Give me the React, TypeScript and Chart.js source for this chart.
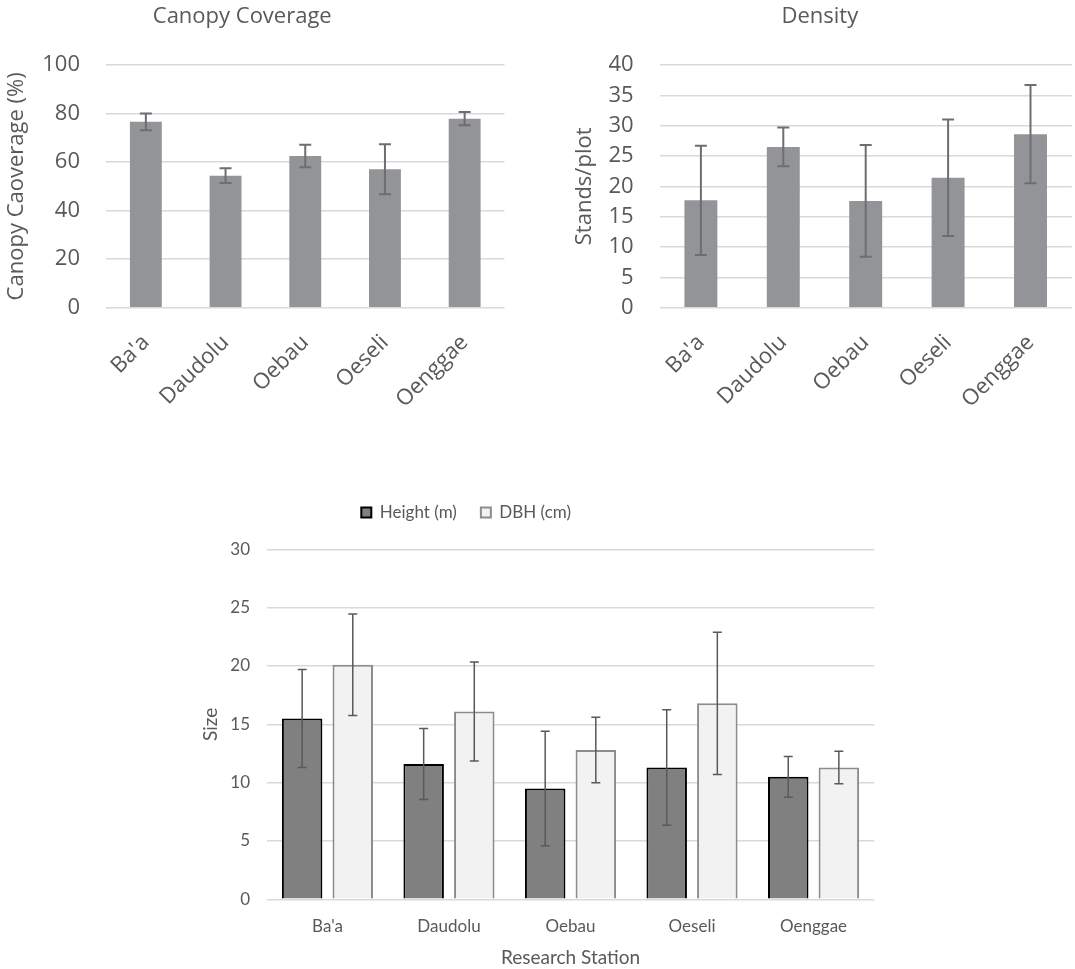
import React, { useEffect, useRef } from 'react';
import { Chart, registerables } from 'chart.js';

Chart.register(...registerables);

// ---------- data ----------
const stations = ["Ba'a", 'Daudolu', 'Oebau', 'Oeseli', 'Oenggae'];

const canopyMean = [76.6, 54.4, 62.5, 57.0, 77.9];
const canopyErr = [3.45, 3.05, 4.6, 10.3, 2.75];

const densityMean = [17.7, 26.5, 17.6, 21.4, 28.6];
const densityErr = [9.0, 3.2, 9.2, 9.6, 8.1];

const heightMean = [15.5, 11.6, 9.5, 11.3, 10.5];
const heightErr = [4.2, 3.05, 4.9, 4.95, 1.75];

const dbhMean = [20.1, 16.1, 12.8, 16.8, 11.3];
const dbhErr = [4.35, 4.25, 2.8, 6.1, 1.4];

// ---------- styles ----------
const TEXT = '#595959';
const TOP_FONT = "'Open Sans', 'Noto Sans', sans-serif";
const BOT_FONT = "Lato, 'Open Sans', sans-serif";
const GRID = '#d9d9d9';

const errorBarPlugin: any = {
  id: 'errorBars',
  afterDatasetsDraw(chart: any, _args: any, opts: any) {
    const { ctx } = chart;
    const yScale = chart.scales.y;
    chart.data.datasets.forEach((ds: any, di: number) => {
      const errs = ds.errors;
      if (!errs) return;
      const meta = chart.getDatasetMeta(di);
      meta.data.forEach((bar: any, i: number) => {
        const v = ds.data[i];
        const e = errs[i];
        const x = bar.x;
        const yT = yScale.getPixelForValue(v + e);
        const yB = yScale.getPixelForValue(v - e);
        ctx.save();
        ctx.strokeStyle = opts.color;
        ctx.lineWidth = opts.width;
        ctx.beginPath();
        ctx.moveTo(x, yT);
        ctx.lineTo(x, yB);
        ctx.moveTo(x - opts.cap, yT);
        ctx.lineTo(x + opts.cap, yT);
        ctx.moveTo(x - opts.cap, yB);
        ctx.lineTo(x + opts.cap, yB);
        ctx.stroke();
        ctx.restore();
      });
    });
  },
};

const legendGapPlugin: any = {
  id: 'legendGap',
  beforeLayout(chart: any, _args: any, opts: any) {
    const lg = chart.legend;
    if (lg && !lg._gapPatched) {
      const orig = lg.fit.bind(lg);
      lg.fit = function () {
        orig();
        this.height += (opts && opts.extra) || 0;
      };
      lg._gapPatched = true;
    }
  },
};

function topConfig(
  title: string,
  yTitle: string,
  data: number[],
  errs: number[],
  max: number,
  step: number,
  padRight: number,
  yWidth: number,
  yTitlePad: number
): any {
  const font = { family: TOP_FONT, size: 22, weight: 'normal' as const };
  return {
    type: 'bar',
    data: {
      labels: stations,
      datasets: [
        {
          data,
          errors: errs,
          backgroundColor: '#929497',
          borderWidth: 0,
          categoryPercentage: 1,
          barPercentage: 0.4,
        },
      ],
    },
    options: {
      animation: false,
      responsive: false,
      devicePixelRatio: 1,
      layout: { padding: { left: 0, right: padRight, top: 0, bottom: 0 } },
      plugins: {
        legend: { display: false },
        tooltip: { enabled: false },
        title: {
          display: true,
          text: title,
          color: TEXT,
          font,
          padding: { top: 4, bottom: 34.6 },
        },
        errorBars: { color: '#6d6e71', width: 2, cap: 6 },
      },
      scales: {
        x: {
          grid: { display: false },
          border: { display: false },
          ticks: {
            color: TEXT,
            font,
            minRotation: 45,
            maxRotation: 45,
            padding: 14,
            autoSkip: false,
          },
          afterFit: (s: any) => {
            s.height = 132.3;
          },
        },
        y: {
          min: 0,
          max,
          ticks: { stepSize: step, color: TEXT, font, padding: 26 },
          grid: { color: GRID, lineWidth: 1.5, drawTicks: false },
          border: { display: false },
          title: {
            display: true,
            text: yTitle,
            color: TEXT,
            font,
            padding: { top: yTitlePad, bottom: 0 },
          },
          afterFit: (s: any) => {
            s.width = yWidth;
          },
        },
      },
    },
    plugins: [errorBarPlugin],
  };
}

function bottomConfig(): any {
  const tickFont = { family: BOT_FONT, size: 17, weight: 'normal' as const };
  const titleFont = { family: BOT_FONT, size: 19, weight: 'normal' as const };
  return {
    type: 'bar',
    data: {
      labels: stations,
      datasets: [
        {
          label: 'Height (m)',
          data: heightMean,
          errors: heightErr,
          backgroundColor: '#808080',
          borderColor: '#000000',
          borderWidth: 2,
          categoryPercentage: 0.833,
          barPercentage: 0.8,
        },
        {
          label: 'DBH (cm)',
          data: dbhMean,
          errors: dbhErr,
          backgroundColor: '#f2f2f2',
          borderColor: '#8c8c8c',
          borderWidth: 2,
          categoryPercentage: 0.833,
          barPercentage: 0.8,
        },
      ],
    },
    options: {
      animation: false,
      responsive: false,
      devicePixelRatio: 1,
      layout: { padding: { left: 0, right: 200.7, top: 0, bottom: 0 } },
      plugins: {
        tooltip: { enabled: false },
        legend: {
          display: true,
          position: 'top',
          labels: {
            boxWidth: 10,
            boxHeight: 10,
            padding: 24,
            color: TEXT,
            font: tickFont,
          },
        },
        legendGap: { extra: 18.3 },
        errorBars: { color: '#595959', width: 1.5, cap: 4.5 },
      },
      scales: {
        x: {
          grid: { display: false },
          border: { display: false },
          ticks: { color: TEXT, font: tickFont, padding: 9.5, autoSkip: false, maxRotation: 0 },
          title: {
            display: true,
            text: 'Research Station',
            color: TEXT,
            font: titleFont,
            padding: { top: 0, bottom: 0 },
          },
          afterFit: (s: any) => {
            s.height = 69.7;
          },
        },
        y: {
          min: 0,
          max: 30,
          ticks: { stepSize: 5, color: TEXT, font: tickFont, padding: 16.7 },
          grid: { color: GRID, lineWidth: 1.5, drawTicks: false },
          border: { display: false },
          title: {
            display: true,
            text: 'Size',
            color: TEXT,
            font: titleFont,
            padding: { top: 141.6, bottom: 0 },
          },
          afterFit: (s: any) => {
            s.width = 208.7;
          },
        },
      },
    },
    plugins: [errorBarPlugin, legendGapPlugin],
  };
}

export default function App() {
  const aRef = useRef<HTMLCanvasElement>(null);
  const bRef = useRef<HTMLCanvasElement>(null);
  const cRef = useRef<HTMLCanvasElement>(null);

  useEffect(() => {
    document.body.style.margin = '0';
    document.body.style.background = '#ffffff';
    const charts: Chart[] = [];
    if (aRef.current)
      charts.push(
        new Chart(
          aRef.current,
          topConfig('Canopy Coverage', 'Canopy Caoverage (%)', canopyMean, canopyErr, 100, 20, 55.5, 126, 23.5)
        )
      );
    if (bRef.current)
      charts.push(
        new Chart(
          bRef.current,
          topConfig('Density', 'Stands/plot', densityMean, densityErr, 40, 5, 3.3, 91.7, 3.5)
        )
      );
    if (cRef.current) charts.push(new Chart(cRef.current, bottomConfig()));
    return () => {
      charts.forEach((c) => c.destroy());
    };
  }, []);

  return (
    <div style={{ position: 'relative', width: 1075, height: 969, background: '#fff', overflow: 'hidden' }}>
      <canvas
        ref={aRef}
        width={580}
        height={440}
        style={{ position: 'absolute', left: -20, top: 0, width: 580, height: 440 }}
      />
      <canvas
        ref={bRef}
        width={507}
        height={440}
        style={{ position: 'absolute', left: 568, top: 0, width: 507, height: 440 }}
      />
      <canvas
        ref={cRef}
        width={1017}
        height={489}
        style={{ position: 'absolute', left: 58, top: 480, width: 1017, height: 489 }}
      />
    </div>
  );
}
